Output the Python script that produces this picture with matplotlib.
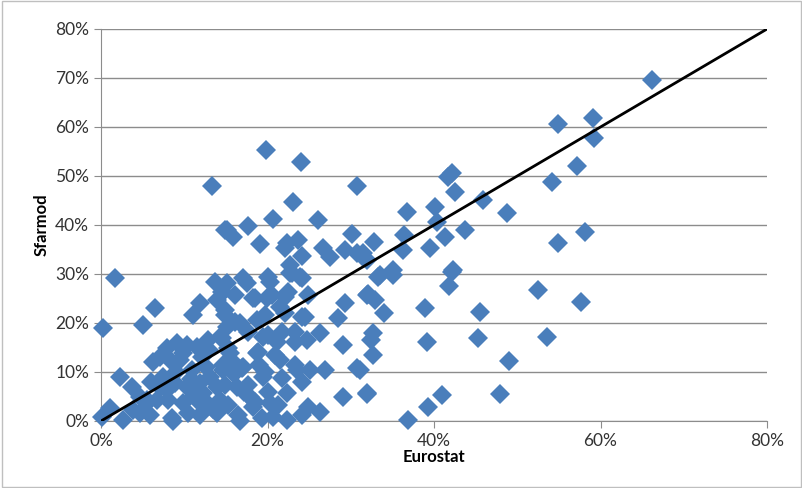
import matplotlib.pyplot as plt
from matplotlib.ticker import PercentFormatter

# ───────── data (in %) ─────────
eurostat = [
    66.2, 54.9, 59.1, 59.2, 57.2, 54.2, 48.8, 58.1, 54.9,
    52.5, 57.7, 53.6, 49.0, 47.9,
    42.2, 41.7, 42.5, 45.9, 36.8, 40.1, 40.4, 43.7, 36.4, 41.3,
    32.8, 31.5, 32.0, 36.3, 39.5, 33.5, 35.1, 42.3,
    33.3, 35.1, 42.2, 41.8, 32.1, 32.9, 34.0, 38.9, 45.5, 32.7, 32.4,
    39.2, 45.3, 32.7, 31.1, 32.0, 41.0, 39.3, 36.9,
    19.8, 24.0, 30.8, 23.1, 15.1, 15.9, 17.7, 20.7, 26.1, 19.1, 22.3,
    23.7, 22.1, 24.1, 26.7, 27.5, 29.3, 30.2, 30.8, 31.5, 22.7, 22.9,
    23.9, 20.1, 17.1,
    13.3, 14.9,
    1.7, 6.5, 0.2, 5.0, 13.7, 11.9, 11.1, 13.9, 14.7, 14.9, 2.3, 3.7,
    0.1, 1.1, 2.6, 3.8, 4.7, 5.6, 5.9, 8.6,
    22.7, 24.1, 20.3, 17.5, 15.1, 18.3, 19.9, 22.1, 24.9, 32.0, 29.3,
    28.5, 24.1, 21.5, 18.7, 16.7, 15.1, 23.3, 26.3, 24.7, 29.1, 19.5,
    21.1, 21.5, 23.5, 25.1, 26.9, 30.8, 29.1, 32.0, 24.9, 26.3, 22.3,
    20.3, 20.7, 16.7, 18.3, 19.5, 16.3, 17.9, 14.7, 17.1, 18.7, 15.5,
    7.9, 9.1, 10.3, 7.1, 6.2, 8.3, 9.5, 11.5, 12.9, 14.3, 12.1, 10.9,
    7.4, 7.1, 8.9, 10.3, 11.9, 13.1, 13.9, 5.5, 6.7, 8.0, 9.8, 11.5,
    12.7, 14.3, 4.7, 8.5, 10.5, 11.9, 13.9, 7.9, 12.3,
    14.5, 16.1, 18.5, 20.5, 22.5, 24.5, 22.1, 19.7, 14.9, 16.1, 17.7,
    20.1, 21.7, 23.3, 14.5, 15.3, 18.9, 20.9, 23.3, 14.7, 16.9, 19.7,
    21.7, 14.9, 17.7, 20.1, 24.1, 15.3, 18.5, 21.3, 16.5, 19.3, 24.1,
    22.3,
    9.0, 10.8, 12.6, 13.5, 16.0, 17.2, 19.0, 11.2, 6.0, 9.8, 13.0, 15.8,
]
sfarmod = [
    69.6, 60.6, 61.8, 57.8, 52.0, 48.8, 42.4, 38.6, 36.3,
    26.7, 24.3, 17.1, 12.2, 5.5,
    50.6, 49.8, 46.7, 45.1, 42.7, 43.7, 40.6, 39.0, 38.0, 37.6,
    36.5, 34.3, 32.9, 34.9, 35.3, 29.8, 30.8, 30.8,
    29.4, 29.8, 30.4, 27.6, 25.9, 24.7, 22.0, 23.1, 22.2, 18.0, 16.5,
    16.1, 16.9, 13.5, 10.4, 5.5, 5.3, 2.9, 0.2,
    55.3, 52.9, 48.0, 44.7, 39.0, 37.6, 39.8, 41.2, 41.0, 36.1, 36.3,
    36.9, 35.3, 33.7, 35.3, 33.5, 34.9, 38.2, 34.3, 33.5, 31.8, 30.2,
    29.4, 29.4, 29.2,
    48.0, 39.0,
    29.2, 23.1, 19.0, 19.6, 28.4, 24.1, 21.6, 24.7, 26.3, 22.7, 9.0, 6.9,
    0.8, 2.7, 0.2, 2.2, 4.9, 3.9, 1.2, 0.0,
    30.2, 29.2, 28.4, 28.2, 28.2, 25.1, 25.1, 25.3, 25.7, 25.7, 24.1,
    21.0, 21.2, 23.3, 20.6, 20.0, 19.2, 18.2, 18.0, 16.5, 15.5, 17.1,
    16.1, 12.4, 10.4, 10.4, 10.4, 10.8, 4.9, 5.7, 2.9, 1.8, 5.7,
    3.7, 0.8, 0.0, 2.9, 9.0, 6.9, 4.9, 10.4, 11.0, 13.9, 13.9,
    14.9, 15.9, 15.5, 13.1, 12.0, 12.4, 12.4, 15.1, 16.5, 17.1, 13.1, 10.4,
    9.0, 6.9, 7.8, 6.9, 7.8, 9.0, 6.9, 4.3, 4.3, 4.3, 3.7, 4.3,
    3.7, 4.3, 1.6, 0.6, 1.6, 1.2, 1.6, 6.3, 5.7,
    26.3, 25.7, 25.1, 25.7, 26.3, 21.2, 22.0, 21.6, 21.6, 20.2, 18.2,
    17.6, 18.2, 16.1, 16.9, 14.9, 14.1, 13.5, 11.4, 11.4, 10.8, 10.0,
    8.8, 7.3, 7.3, 5.9, 8.0, 3.3, 3.9, 3.3, 1.2, 0.6, 1.2,
    0.2,
    10.0, 8.5, 11.0, 2.5, 9.5, 6.0, 11.5, 5.0, 8.0, 13.8, 14.5, 12.0,
]
diag = [0, 80]

# ───────── plot ─────────
plt.rcParams['font.family'] = ['Lato', 'DejaVu Sans']

fig = plt.figure(figsize=(8.03, 4.88), dpi=100)
ax = fig.add_axes([0.1258, 0.1373, 0.8294, 0.8033])

ax.plot(eurostat, sfarmod, linestyle='none', marker='D', ms=10,
        color='#4a7ebb', markeredgewidth=0, zorder=3, clip_on=False)
ax.plot(diag, diag, color='black', lw=2, zorder=4)

ax.set_xlim(0, 80)
ax.set_ylim(0, 80)
ax.set_xticks(range(0, 81, 20))
ax.set_yticks(range(0, 81, 10))
ax.xaxis.set_major_formatter(PercentFormatter(decimals=0))
ax.yaxis.set_major_formatter(PercentFormatter(decimals=0))
ax.grid(axis='y', color='#8c8c8c', lw=1)
ax.set_axisbelow(True)
for s in ['top', 'right']:
    ax.spines[s].set_visible(False)
for s in ['left', 'bottom']:
    ax.spines[s].set_color('#8c8c8c')
ax.tick_params(colors='#8c8c8c', labelcolor='#333333', labelsize=12.5,
               length=5, direction='out')
ax.set_xlabel('Eurostat', fontsize=12, fontweight='bold', labelpad=0)
ax.set_ylabel('Sfarmod', fontsize=12, fontweight='bold', labelpad=4)

# light frame round the picture
fig.patches.append(plt.Rectangle((0.002, 0.003), 0.996, 0.994, transform=fig.transFigure,
                                 fill=False, edgecolor='#bfbfbf', lw=1))

fig.savefig('out.png', dpi=100)
